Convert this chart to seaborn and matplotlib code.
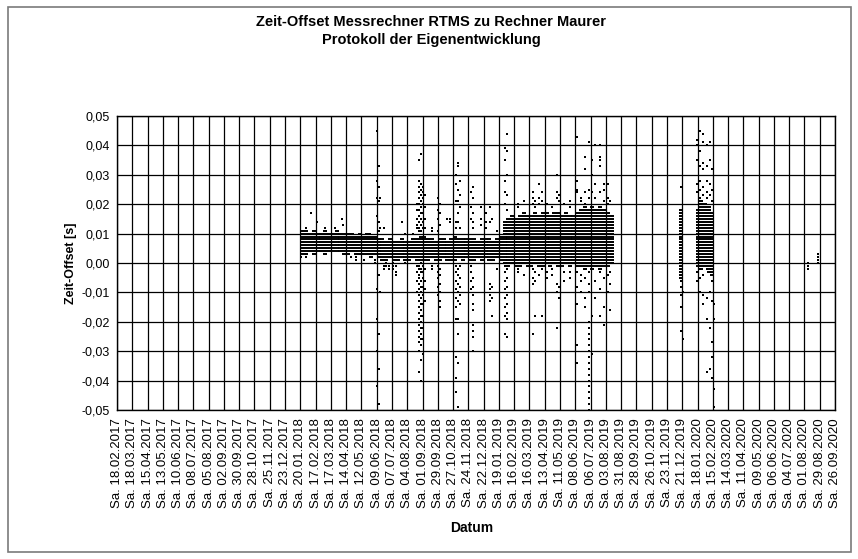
import numpy as np
import pandas as pd
import matplotlib
matplotlib.use("Agg")
import matplotlib.pyplot as plt
import seaborn as sns
from matplotlib.patches import Rectangle

sns.set_theme(style="white")
plt.rcParams['font.family'] = ['Liberation Sans', 'DejaVu Sans']

# ---------------- data ----------------
tick_labels = ["Sa. 18.02.2017", "Sa. 18.03.2017", "Sa. 15.04.2017", "Sa. 13.05.2017", "Sa. 10.06.2017",
               "Sa. 08.07.2017", "Sa. 05.08.2017", "Sa. 02.09.2017", "Sa. 30.09.2017", "Sa. 28.10.2017",
               "Sa. 25.11.2017", "Sa. 23.12.2017", "Sa. 20.01.2018", "Sa. 17.02.2018", "Sa. 17.03.2018",
               "Sa. 14.04.2018", "Sa. 12.05.2018", "Sa. 09.06.2018", "Sa. 07.07.2018", "Sa. 04.08.2018",
               "Sa. 01.09.2018", "Sa. 29.09.2018", "Sa. 27.10.2018", "Sa. 24.11.2018", "Sa. 22.12.2018",
               "Sa. 19.01.2019", "Sa. 16.02.2019", "Sa. 16.03.2019", "Sa. 13.04.2019", "Sa. 11.05.2019",
               "Sa. 08.06.2019", "Sa. 06.07.2019", "Sa. 03.08.2019", "Sa. 31.08.2019", "Sa. 28.09.2019",
               "Sa. 26.10.2019", "Sa. 23.11.2019", "Sa. 21.12.2019", "Sa. 18.01.2020", "Sa. 15.02.2020",
               "Sa. 14.03.2020", "Sa. 11.04.2020", "Sa. 09.05.2020", "Sa. 06.06.2020", "Sa. 04.07.2020",
               "Sa. 01.08.2020", "Sa. 29.08.2020", "Sa. 26.09.2020"]
y_ticks = [0.05, 0.04, 0.03, 0.02, 0.01, 0.00, -0.01, -0.02, -0.03, -0.04, -0.05]
y_tick_labels = ["0,05", "0,04", "0,03", "0,02", "0,01", "0,00", "-0,01", "-0,02", "-0,03", "-0,04", "-0,05"]

# weekly dense band (ms), consecutive weeks starting Sa. 20.01.2018
band_start = "2018-01-20"
core_lo = [3, 3, 4, 3, 4, 4, 3, 4, 4, 4, 4, 3, 3, 4, 3, 3, 3, 3, 2, 3,
           2, 1, 1, 2, 1, 1, 2, 1, 1, 2, 1, 1, 1, 1, 2, 1, 1, 2, 1, 1,
           1, 2, 1, 2, 1, 1, 2, 1, 2, 1, 1, 2, 1, 0, -1, 0, -1, -1, 0, -1,
           -1, 0, -1, -1, 0, -1, 0, -1, -1, 0, -1, 0, -1, -1, -2, -1, -2, -1, -2, -1,
           -1, 0]
core_hi = [11, 11, 10, 11, 10, 10, 11, 10, 10, 11, 10, 10, 10, 10, 9, 10, 9, 10, 9, 9,
           8, 8, 7, 8, 7, 7, 8, 7, 7, 8, 8, 9, 9, 8, 8, 7, 8, 8, 7, 8,
           9, 8, 8, 8, 8, 8, 7, 8, 8, 8, 7, 8, 9, 14, 15, 16, 15, 16, 17, 16,
           16, 17, 16, 17, 17, 16, 17, 17, 16, 17, 16, 16, 17, 18, 19, 18, 19, 18, 19, 18,
           17, 16]

# later clusters (week position relative to 20.01.2018, ms range)
cluster_week = [99.8, 104.0, 105.0, 106.0, 107.0, 107.9]
cluster_lo = [-5, -1, -2, -1, -3, -4]
cluster_hi = [18, 18, 21, 20, 19, 17]

# scattered single readings: week position (rel. 20.01.2018) and ms values
fringe_week = [0.3, 1.5, 2.8, 4.3, 6.5, 9.0, 10.8, 11.3, 13.2, 14.5, 16.7, 18.2, 19.5,
               20.2, 20.5, 20.9, 21.8, 22.5, 23.2, 24.3, 25.1, 26.5, 27.3, 29.4,
               30.6, 31.1, 31.6, 32.1, 32.6, 34.5, 36.0, 36.6, 38.3, 39.2,
               40.8, 41.3, 41.8, 44.7, 45.2, 47.2, 48.5, 49.6, 50.2, 51.5,
               53.5, 54.0, 57.0, 58.5, 60.8, 61.5, 62.5, 63.2, 64.5, 66.0, 67.3, 67.8, 69.0, 70.5,
               72.5, 73.5, 74.5, 75.7, 76.3, 77.2, 78.5, 79.5, 80.5, 81.2,
               99.7, 100.1,
               103.9, 104.6, 105.4, 106.4, 107.2, 107.9, 108.3,
               132.8, 135.6]
fringe_ms = [[2], [2, 12], [17], [14], [12], [12], [15], [13], [2], [1, 2], [1], [10], [0, 1],
             [45, 28, 22, 16, -9, -19, -30, -42], [33, 26, 21, 14, 11, -4, -24, -36, -48], [22, 12, -10],
             [12, -1, -2], [-1, 0], [-2, -1], [0, -1, -2], [-1, -3, -4], [14], [10, 0], [10],
             [20, 18, 15, 13, 12, -1, -3, -6, -10],
             [35, 28, 26, 24, 22, 20, 18, 16, 14, 12, 11, -1, -2, -4, -5, -7, -9, -11, -13, -15, -17, -19, -21, -23, -25, -27, -30, -37],
             [37, 27, 25, 23, 21, 19, 17, 15, 13, 11, 0, -2, -3, -6, -8, -10, -12, -14, -16, -18, -20, -22, -24, -26, -28, -33, -40],
             [26, 24, 22, 20, 17, 14, 12, -1, -3, -5, -8, -11, -14, -18, -22, -26, -31],
             [23, 19, 15, 12, -2, -6, -9, -13],
             [12, 11, -1, -2],
             [22, 18, 15, 11, -1, -3, -5, -8, -11], [20, 17, 13, -2, -4, -7, -10, -13, -15],
             [15], [15, 14],
             [30, 27, 21, 14, 12, -1, -3, -6, -9, -12, -15, -19, -32, -39, -44],
             [34, 33, 25, 21, 17, 14, -2, -4, -7, -10, -13, -19, -24, -34, -49],
             [28, 23, 19, 12, -1, -5, -8, -11, -14],
             [24, 19, 15, -1, -3, -6, -9], [26, 22, 17, 14, 12, -5, -8, -11, -14, -16, -21, -23, -25, -30],
             [19, 15, 13], [17, 14, 12], [19, 14, -7, -9, -11, -13], [15, -8, -12, -18], [11, -2],
             [39, 35, 28, 24, 20, -1, -3, -6, -9, -12, -15, -18, -24],
             [44, 38, 30, 23, 18, -2, -5, -8, -11, -14, -17, -19, -25],
             [20, 19, -2, -3], [21, -4], [24, 22, 20, -2, -5, -7, -24], [21, 19, -3, -6, -18],
             [27, 22, 20, -4], [24, 21, -2, -18], [20, -3, -5], [19, -2, -4], [30, 24, 22, -7, -10, -22],
             [23, 21, -8, -12], [20, -3, -6], [21, 19, -3, -5],
             [43, 28, 25, 24, -3, -8, -14, -34, -28], [22, 21, -4, -6, -10], [36, 32, 24, 20, -2, -5, -12, -15],
             [41, 25, 22, -3, -7, -10, -20, -22, -24, -26, -28, -30, -32, -34, -36, -38, -40, -42, -44, -46, -48, -50],
             [35, 30, 24, -31, -18], [40, 27, 22, -6, -12], [40, 36, 35, 33, 24, -3, -9, -18],
             [27, 25, 21, -5, -15, -21], [27, 22, 20, -4, -10], [21, -3, -7, -16],
             [26, -6, -8, -11, -15, -23], [-10, -26],
             [42, 40, 35, 27, 24, -3, -6], [45, 38, 33, 28, 25, 22, -2, -5, -10],
             [44, 41, 34, 32, 26, 23, -4, -11, -14], [40, 33, 28, 24, 22, -2, -12, -19, -37],
             [41, 35, 27, 23, -3, -10, -22, -36], [32, 25, 21, -6, -13, -27, -39, -32],
             [-19, -43, -49, -14],
             [0, -1, -2], [3, 2, 1, 0]]

# ---------------- build tables ----------------
t0 = pd.Timestamp("2017-02-18")
tick_pos = [(pd.to_datetime(s[4:], format="%d.%m.%Y") - t0).days for s in tick_labels]
b0 = (pd.Timestamp(band_start) - t0).days

bx, by = [], []
for i, (lo, hi) in enumerate(zip(core_lo, core_hi)):
    for v in range(lo, hi + 1):
        bx.append(b0 + 7 * i + 3.5)
        by.append(v / 1000)
for w, lo, hi in zip(cluster_week, cluster_lo, cluster_hi):
    for v in range(lo, hi + 1):
        bx.append(b0 + 7 * w)
        by.append(v / 1000)
band = pd.DataFrame({"x": bx, "y": by})

fx, fy = [], []
for w, vals in zip(fringe_week, fringe_ms):
    for v in vals:
        fx.append(b0 + 7 * w)
        fy.append(v / 1000)
fringe = pd.DataFrame({"x": fx, "y": fy})

# ---------------- plot ----------------
W, H = 858, 559
L, R, T, B = 117, 835, 116, 410
fig = plt.figure(figsize=(W / 100, H / 100), dpi=100)
fig.patch.set_facecolor("white")
ax = fig.add_axes([L / W, 1 - B / H, (R - L) / W, (B - T) / H])
ax.set_facecolor("white")

fig.patches.append(Rectangle((8 / W, 1 - 552 / H), (851 - 8) / W, (552 - 7) / H, transform=fig.transFigure,
                             fill=False, edgecolor="#7a7a7a", linewidth=1.2, zorder=0))

sns.scatterplot(data=band, x="x", y="y", marker="_", s=8.5, linewidth=1.4, color="black",
                ax=ax, legend=False, zorder=3)
sns.scatterplot(data=fringe, x="x", y="y", marker="s", s=2.4, linewidth=0, color="black",
                ax=ax, legend=False, zorder=3)

ax.set_xlim(tick_pos[0], tick_pos[-1])
ax.set_ylim(-0.05, 0.05)
ax.set_xticks(tick_pos)
ax.set_xticklabels(tick_labels, rotation=90, fontsize=9.5, color="black")
ax.set_yticks(y_ticks)
ax.set_yticklabels(y_tick_labels, fontsize=9, color="black")
ax.tick_params(axis="x", length=0, pad=6)
ax.tick_params(axis="y", length=0, pad=5)
ax.grid(True, color="black", linewidth=0.9)
ax.set_axisbelow(True)
for sp in ax.spines.values():
    sp.set_color("black")
    sp.set_linewidth(1.0)

ax.set_xlabel("")
ax.set_ylabel("Zeit-Offset [s]", fontsize=9, fontweight="bold", color="black")
ax.yaxis.set_label_coords((77 - L) / (R - L), 0.5)

fig.text(472 / W, 1 - 528 / H, "Datum", ha="center", va="center", fontsize=10,
         fontweight="bold", color="black")
fig.text(431 / W, 1 - 22 / H, "Zeit-Offset Messrechner RTMS zu Rechner Maurer", ha="center",
         va="center", fontsize=10.5, fontweight="bold", color="black")
fig.text(431 / W, 1 - 40 / H, "Protokoll der Eigenentwicklung", ha="center",
         va="center", fontsize=10.5, fontweight="bold", color="black")

fig.savefig("out.png", dpi=100, facecolor="white")
